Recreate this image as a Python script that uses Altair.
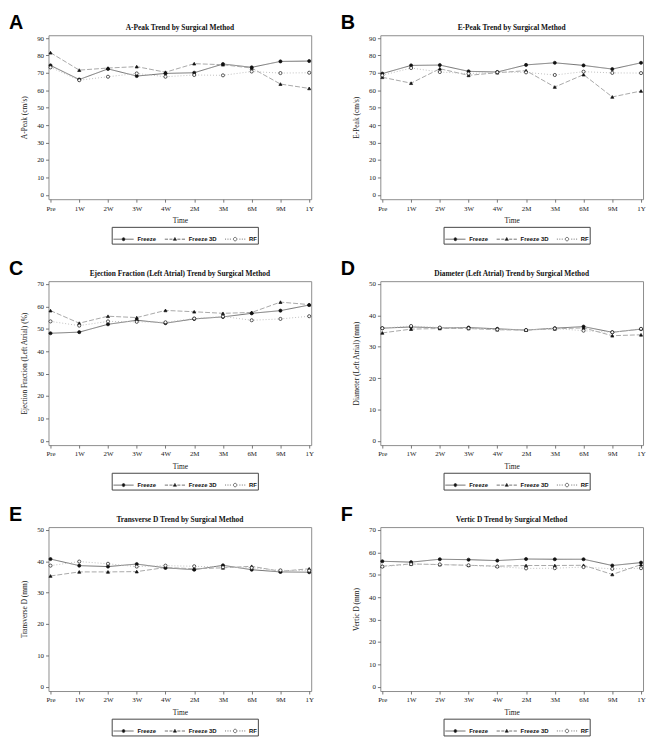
import altair as alt
import pandas as pd

times = ["Pre", "1W", "2W", "3W", "4W", "2M", "3M", "6M", "9M", "1Y"]
series = ["Freeze", "Freeze 3D", "RF"]

a_freeze = [74.3, 66.2, 72.3, 68.2, 69.7, 70.1, 75.1, 73.2, 76.6, 76.8]
a_freeze3d = [81.6, 71.6, 72.8, 73.6, 70.4, 75.3, 74.7, 72.8, 63.6, 61.1]
a_rf = [73.2, 65.8, 67.8, 69.7, 67.8, 68.8, 68.6, 70.8, 69.9, 70.1]

b_freeze = [69.6, 74.3, 74.5, 70.9, 70.5, 74.6, 75.8, 74.3, 72.2, 75.8]
b_freeze3d = [67.5, 64.1, 72.4, 68.6, 70.1, 71.3, 61.9, 69.0, 56.2, 59.6]
b_rf = [68.6, 72.8, 70.5, 69.6, 70.4, 70.3, 68.8, 70.7, 70.0, 69.9]

c_freeze = [48.0, 48.5, 52.0, 53.8, 52.5, 54.4, 55.3, 56.9, 58.1, 60.6]
c_freeze3d = [58.1, 52.5, 55.6, 55.0, 58.2, 57.6, 56.9, 57.3, 61.9, 60.8]
c_rf = [53.3, 51.4, 53.3, 53.1, 52.9, 54.6, 55.5, 53.8, 54.4, 55.6]

d_freeze = [35.9, 36.3, 36.0, 36.1, 35.7, 35.3, 35.9, 36.4, 34.6, 35.6]
d_freeze3d = [34.4, 35.6, 35.8, 35.8, 35.4, 35.3, 35.7, 36.0, 33.5, 33.8]
d_rf = [35.9, 36.6, 36.1, 35.9, 35.5, 35.3, 35.8, 35.1, 34.6, 35.7]

e_freeze = [40.7, 38.6, 38.3, 39.1, 37.9, 37.3, 38.7, 37.3, 36.6, 36.5]
e_freeze3d = [35.3, 36.6, 36.6, 36.7, 38.0, 37.6, 37.9, 38.4, 36.8, 37.6]
e_rf = [38.6, 39.9, 39.2, 38.3, 38.6, 38.4, 38.1, 37.9, 37.1, 37.0]

f_freeze = [56.0, 55.6, 56.9, 56.7, 56.3, 57.0, 56.9, 56.9, 54.1, 55.4]
f_freeze3d = [53.8, 54.8, 54.5, 54.2, 53.8, 54.1, 54.1, 54.2, 50.1, 54.5]
f_rf = [53.6, 54.7, 54.6, 54.2, 53.6, 52.8, 52.9, 53.4, 52.6, 52.9]

letters = ["A", "B", "C", "D", "E", "F"]
titles = [
    "A-Peak Trend by Surgical Method",
    "E-Peak Trend by Surgical Method",
    "Ejection Fraction (Left Atrial) Trend by Surgical Method",
    "Diameter (Left Atrial) Trend by Surgical Method",
    "Transverse D Trend by Surgical Method",
    "Vertic D Trend by Surgical Method",
]
y_titles = [
    "A-Peak (cm/s)",
    "E-Peak (cm/s)",
    "Ejection Fraction (Left Atrial) (%)",
    "Diameter (Left Atrial) (mm)",
    "Transverse D (mm)",
    "Vertic D (mm)",
]
y_max = [90, 90, 70, 50, 50, 70]
values = [
    (a_freeze, a_freeze3d, a_rf),
    (b_freeze, b_freeze3d, b_rf),
    (c_freeze, c_freeze3d, c_rf),
    (d_freeze, d_freeze3d, d_rf),
    (e_freeze, e_freeze3d, e_rf),
    (f_freeze, f_freeze3d, f_rf),
]

W, H = 266, 166
SERIF = "Liberation Serif"
SANS = "Liberation Sans"

line_colors = ["#707070", "#a8a8a8", "#c0c0c0"]
dashes = [[1, 0], [5, 2], [1, 2]]
marker_fill = ["#111", "#111", "white"]

# legend symbols: short line sample with the marker in the middle
PATH_F = "M-1,0H-0.18M0.18,0H1M0.15,0A0.15,0.15,0,1,1,-0.15,0A0.15,0.15,0,1,1,0.15,0Z"
PATH_3D = ("M-1,0H-0.68M-0.54,0H-0.24M0,-0.17L0.16,0.11L-0.16,0.11Z"
           "M0.24,0H0.54M0.68,0H1")
PATH_RF = ("M-1,0H-0.9M-0.76,0H-0.66M-0.52,0H-0.42M0.17,0A0.17,0.17,0,1,1,-0.17,0"
           "A0.17,0.17,0,1,1,0.17,0ZM0.42,0H0.52M0.66,0H0.76M0.9,0H1")


def panel(letter, title, ytitle, ymax, vals):
    df = pd.DataFrame({
        "Time": times * 3,
        "series": [s for s in series for _ in times],
        "value": list(vals[0]) + list(vals[1]) + list(vals[2]),
    })
    x = alt.X("Time:N", sort=times,
              scale=alt.Scale(type="point", padding=0.07),
              axis=alt.Axis(title="Time", labelAngle=0, titlePadding=6))
    y = alt.Y("value:Q",
              scale=alt.Scale(domain=[-0.028 * ymax, 1.018 * ymax], nice=False, zero=False),
              axis=alt.Axis(title=ytitle, values=list(range(0, ymax + 1, 10))))
    base = alt.Chart(df)
    lines = base.mark_line(strokeWidth=1).encode(
        x=x, y=y,
        color=alt.Color("series:N", scale=alt.Scale(domain=series, range=line_colors), legend=None),
        strokeDash=alt.StrokeDash("series:N", scale=alt.Scale(domain=series, range=dashes), legend=None),
    )
    pts = base.mark_point(filled=False, opacity=1, stroke="#111", strokeWidth=0.7, size=10).encode(
        x=x, y=y,
        shape=alt.Shape("series:N", scale=alt.Scale(domain=series, range=["circle", "triangle-up", "circle"]), legend=None),
        fill=alt.Fill("series:N", scale=alt.Scale(domain=series, range=marker_fill), legend=None),
    )
    legend = alt.Legend(
        orient="none", legendX=64, legendY=H + 28, direction="horizontal", title=None,
        symbolSize=420, symbolStrokeWidth=0.7, symbolStrokeColor="#333", symbolFillColor="#111",
        labelFont=SANS, labelFontSize=6, labelFontWeight="bold", labelColor="#111",
        labelOffset=3, columnPadding=6, padding=1, strokeColor="#444",
    )
    legend_layer = base.mark_point(filled=False, opacity=1, stroke="#333", strokeWidth=0.7).encode(
        shape=alt.Shape("series:N", scale=alt.Scale(domain=series, range=[PATH_F, PATH_3D, PATH_RF]), legend=legend),
        fill=alt.Fill("series:N", scale=alt.Scale(domain=series, range=marker_fill), legend=legend),
    ).transform_filter("false")
    letter_layer = alt.Chart(pd.DataFrame({"t": [letter]})).mark_text(
        font=SANS, fontSize=20, fontWeight="bold", align="left", baseline="alphabetic", color="#000"
    ).encode(text="t:N", x=alt.value(-40), y=alt.value(-6))
    title_layer = alt.Chart(pd.DataFrame({"t": [title]})).mark_text(
        font=SERIF, fontSize=7.5, fontWeight="bold", align="center", baseline="alphabetic", color="#111"
    ).encode(text="t:N", x=alt.value(W / 2), y=alt.value(-5))
    return alt.layer(lines, pts, legend_layer, letter_layer, title_layer).resolve_scale(
        shape="independent", fill="independent"
    ).properties(width=W, height=H)


charts = [panel(letters[i], titles[i], y_titles[i], y_max[i], values[i]) for i in range(6)]

chart = alt.concat(*charts, columns=2, spacing={"row": 14, "column": 26}).properties(
    padding=0, background="white"
).configure_view(
    stroke="#8c8c8c", strokeWidth=1
).configure_axis(
    grid=False, domain=False,
    labelFont=SERIF, labelFontSize=7, labelColor="#222", labelPadding=2,
    titleFont=SERIF, titleFontSize=7.5, titleFontWeight="normal", titleColor="#222", titlePadding=4,
    tickColor="#555", tickSize=3, tickWidth=0.8,
).configure_axisY(
    titlePadding=8
)

chart.save("out.html", embed_options={"renderer": "svg", "actions": False})
